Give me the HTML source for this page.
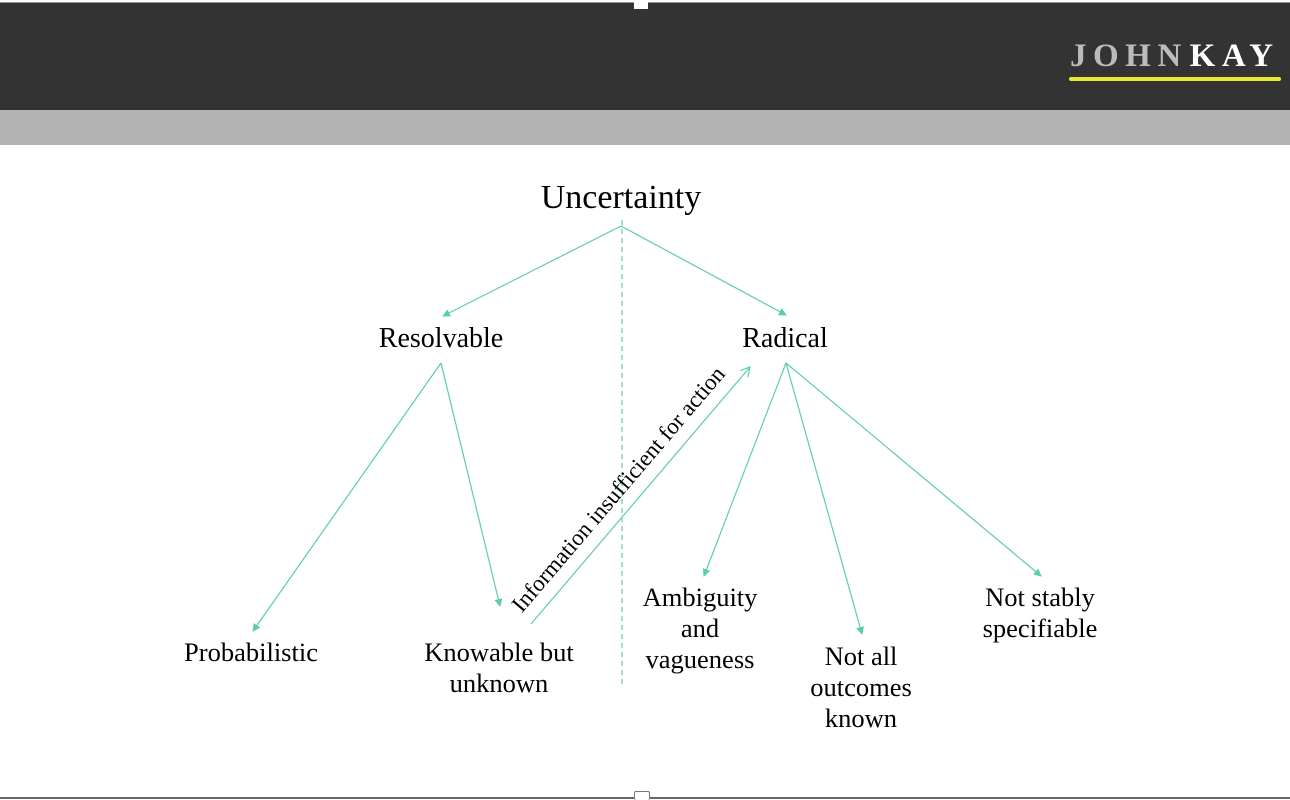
<!DOCTYPE html>
<html><head><style>
body{margin:0;width:1290px;height:800px;background:#fff;overflow:hidden;position:relative;font-family:"Liberation Serif",serif}
.t{position:absolute;color:#000;text-align:center;font-size:26.5px;line-height:31px;transform:translateX(-50%);white-space:nowrap}
</style></head><body>
<div style="position:absolute;left:0;top:0;width:1290px;height:3px;background:#fff"></div>
<div style="position:absolute;left:0;top:3px;width:1290px;height:107px;background:#333"></div>
<div style="position:absolute;left:0;top:2px;width:1290px;height:1px;background:#999"></div>
<div style="position:absolute;left:634px;top:0;width:14px;height:9px;background:#fff"></div>
<div style="position:absolute;left:0;top:110px;width:1290px;height:35px;background:#b3b3b3"></div>
<div style="position:absolute;left:1070px;top:38px;font-size:33px;letter-spacing:6.5px;font-weight:bold;color:#bbb;white-space:nowrap">JOHN<span style="color:#fff;margin-left:2px">KAY</span></div>
<div style="position:absolute;left:1069px;top:77px;width:212px;height:4px;background:#e8e830;border-radius:2px"></div>
<div style="position:absolute;left:0;top:797px;width:1290px;height:2px;background:#666"></div>
<div style="position:absolute;left:634px;top:791px;width:14px;height:8px;background:#fff;border:1px solid #777;border-bottom:none;border-radius:2px"></div>
<svg width="1290" height="800" style="position:absolute;left:0;top:0">
<defs><marker id="a" markerWidth="8" markerHeight="8" refX="7" refY="4" orient="auto" markerUnits="userSpaceOnUse"><path d="M0,0 L8,4 L0,8z" fill="#5ccf9f"/></marker>
<marker id="o" markerWidth="12" markerHeight="12" refX="10" refY="6" orient="auto" markerUnits="userSpaceOnUse"><path d="M1,1 L10,6 L1,11" fill="none" stroke="#5ccf9f" stroke-width="1.2"/></marker></defs>
<g stroke="#5ccf9f" stroke-width="1.2" fill="none">
<line x1="622" y1="220" x2="622" y2="688" stroke-dasharray="5,4"/>
<line x1="621" y1="226" x2="443" y2="316" marker-end="url(#a)"/>
<line x1="621" y1="226" x2="786" y2="315" marker-end="url(#a)"/>
<line x1="441" y1="363" x2="253" y2="631" marker-end="url(#a)"/>
<line x1="441" y1="363" x2="500" y2="606" marker-end="url(#a)"/>
<line x1="786" y1="363" x2="704" y2="576" marker-end="url(#a)"/>
<line x1="786" y1="363" x2="862" y2="634" marker-end="url(#a)"/>
<line x1="786" y1="363" x2="1041" y2="576" marker-end="url(#a)"/>
<line x1="531" y1="624" x2="750" y2="367" marker-end="url(#o)"/>
</g>
<text x="624" y="494" font-family="Liberation Serif, serif" font-size="23" text-anchor="middle" transform="rotate(-49.5 624 494)">Information insufficient for action</text>
</svg>
<div class="t" style="left:621px;top:179px;font-size:34px;line-height:38px">Uncertainty</div>
<div class="t" style="left:441px;top:323px;font-size:28px">Resolvable</div>
<div class="t" style="left:785px;top:323px;font-size:28px">Radical</div>
<div class="t" style="left:251px;top:637px">Probabilistic</div>
<div class="t" style="left:499px;top:637px">Knowable but<br>unknown</div>
<div class="t" style="left:700px;top:582px">Ambiguity<br>and<br>vagueness</div>
<div class="t" style="left:861px;top:641px">Not all<br>outcomes<br>known</div>
<div class="t" style="left:1040px;top:582px">Not stably<br>specifiable</div>
</body></html>
